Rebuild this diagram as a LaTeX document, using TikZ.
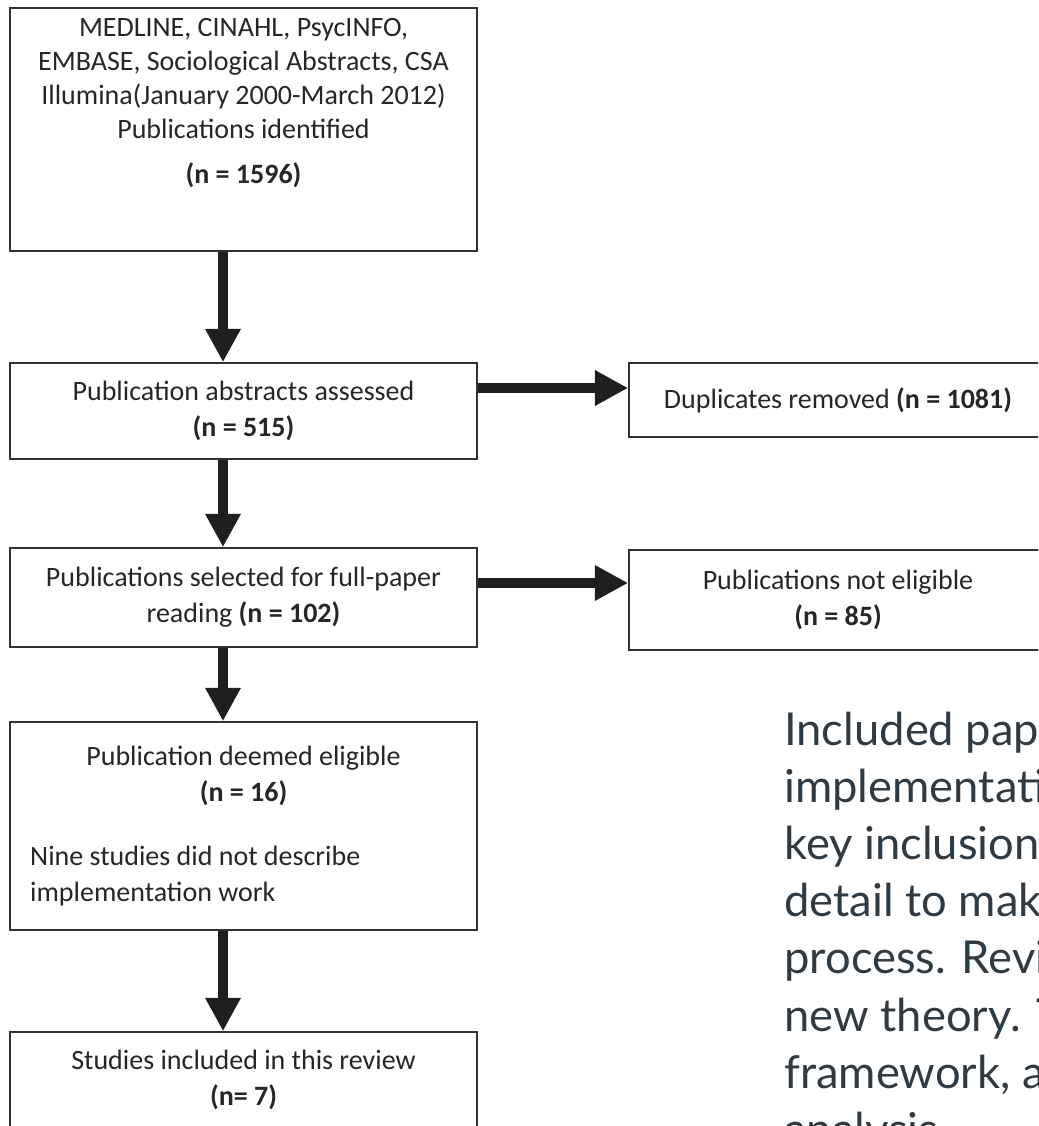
\documentclass[tikz,border=0pt]{standalone}
\usepackage{fontspec}
\setmainfont{Carlito}
\newfontfamily\notefont{Lato}
\usetikzlibrary{arrows.meta}
\definecolor{boxline}{HTML}{333333}
\definecolor{notetext}{HTML}{2F3A42}
\tikzset{
  stepbox/.style={draw=boxline, line width=1.2pt, fill=white, text=black!85, align=center,
    inner sep=0pt, minimum width=350.25pt, font=\fontsize{21}{27}\selectfont},
  flow/.style={-{Triangle[length=25pt,width=25pt]}, line width=8pt, draw=black!88},
  noteline/.style={anchor=base west, inner sep=0pt, text=notetext, font=\notefont\fontsize{34}{43}\selectfont}
}
\begin{document}
\begin{tikzpicture}[x=0.75pt, y=-0.75pt]
\useasboundingbox (0,0) rectangle (1038,1126);
\clip (0,0) rectangle (1038,1126);
% screening steps
\node[stepbox, minimum height=182.25pt, font=\fontsize{21}{25.5}\selectfont] (src) at (243.5,129.5) {MEDLINE, CINAHL, PsycINFO,\\ EMBASE, Sociological Abstracts, CSA\\ Illumina(January 2000-March 2012)\\ Publications identified\\[8pt] \textbf{(n = 1596)}\\[17pt] \mbox{}};
\node[stepbox, minimum height=72pt] (abs) at (243.5,411) {Publication abstracts assessed\\ \textbf{(n = 515)}};
\node[stepbox, minimum height=74.25pt] (full) at (243.5,597.5) {Publications selected for full-paper\\ reading \textbf{(n = 102)}};
\node[stepbox, minimum height=156pt] (elig) at (243.5,826) {\parbox{320pt}{\centering Publication deemed eligible\\ \textbf{(n = 16)}\par\vspace{21pt}\raggedright Nine studies did not describe\\ implementation work}};
\node[stepbox, minimum height=72pt] (incl) at (243.5,1080) {Studies included in this review\\ \textbf{(n= 7)}};
% excluded
\node[stepbox, minimum width=313.5pt, minimum height=55.5pt] (dup) at (838,400) {Duplicates removed \textbf{(n = 1081)}};
\node[stepbox, minimum width=313.5pt, minimum height=75pt] (ne) at (838,600) {Publications not eligible\\ \textbf{(n = 85)}};
\coordinate (axis) at (223,0);
\coordinate (row1) at (0,388);
\coordinate (row2) at (0,583);
\draw[flow] (src.south -| axis) -- (abs.north -| axis);
\draw[flow] (abs.south -| axis) -- (full.north -| axis);
\draw[flow] (full.south -| axis) -- (elig.north -| axis);
\draw[flow] (elig.south -| axis) -- (incl.north -| axis);
\draw[flow] (abs.east |- row1) -- (dup.west |- row1);
\draw[flow] (full.east |- row2) -- (ne.west |- row2);
% note text
\foreach \txt [count=\i] in {Included pape, implementati, key inclusion, detail to mak, {process. Revi}, {new theory. T}, {framework, a}, analysis}
  \node[noteline] (note\i) at (784,{745+57.2*(\i-1)}) {\txt};
\end{tikzpicture}
\end{document}
